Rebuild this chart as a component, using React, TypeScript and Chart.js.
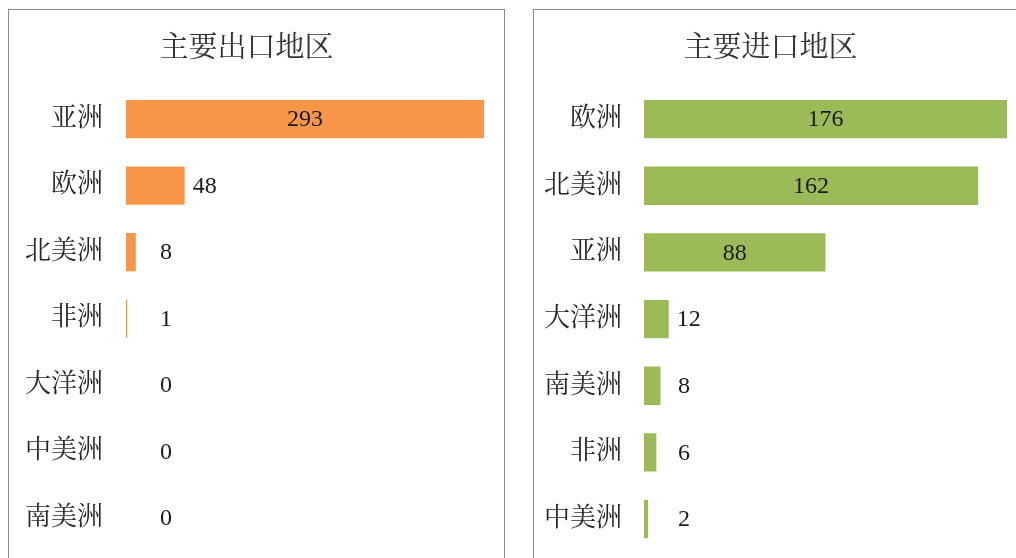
import React, { useEffect, useRef } from "react";
import { Chart, registerables } from "chart.js";

Chart.register(...registerables);

const exportTitle = "主要出口地区";
const exportRegions = ["亚洲", "欧洲", "北美洲", "非洲", "大洋洲", "中美洲", "南美洲"];
const exportValues = [293, 48, 8, 1, 0, 0, 0];

const importTitle = "主要进口地区";
const importRegions = ["欧洲", "北美洲", "亚洲", "大洋洲", "南美洲", "非洲", "中美洲"];
const importValues = [176, 162, 88, 12, 8, 6, 2];

const FONT = "'Liberation Serif', 'Noto Serif CJK SC', 'Noto Sans CJK SC', serif";

const CANVAS_H = 572;

const labelPlugin = {
  id: "barLabels",
  afterDatasetsDraw(chart: any) {
    const ctx = chart.ctx;
    const meta = chart.getDatasetMeta(0);
    const data = chart.data.datasets[0].data as number[];
    ctx.save();
    ctx.font = "24px " + FONT;
    ctx.fillStyle = "#1a1a1a";
    ctx.textBaseline = "middle";
    ctx.textAlign = "center";
    meta.data.forEach((bar: any, i: number) => {
      const txt = String(data[i]);
      const w = ctx.measureText(txt).width;
      const barW = bar.x - bar.base;
      let cx: number;
      if (barW > 100) {
        cx = bar.base + barW / 2;
      } else {
        cx = Math.max(bar.x + 8 + w / 2, bar.base + 40);
      }
      ctx.fillText(txt, cx, bar.y + 1);
    });
    ctx.restore();
  },
};

function BarPanel(props: {
  title: string;
  labels: string[];
  values: number[];
  color: string;
  left: number;
  axisWidth: number;
  padRight: number;
  tickPad: number;
}) {
  const ref = useRef<HTMLCanvasElement | null>(null);
  useEffect(() => {
    if (!ref.current) return;
    const max = Math.max(...props.values);
    const chart = new Chart(ref.current, {
      type: "bar",
      data: {
        labels: props.labels,
        datasets: [
          {
            data: props.values,
            backgroundColor: props.color,
            borderWidth: 0,
            categoryPercentage: 1,
            barPercentage: 0.575,
          },
        ],
      },
      options: {
        indexAxis: "y",
        animation: false,
        responsive: false,
        maintainAspectRatio: false,
        layout: { padding: { left: 0, right: props.padRight, top: 0, bottom: 13 } },
        plugins: {
          legend: { display: false },
          tooltip: { enabled: false },
          title: {
            display: true,
            text: props.title,
            color: "#333333",
            font: { family: FONT, size: 29, weight: "normal" },
            padding: { top: 22, bottom: 19 },
          },
        },
        scales: {
          x: { display: false, min: 0, max: max },
          y: {
            grid: { display: false },
            border: { display: false },
            ticks: {
              color: "#262626",
              font: { family: FONT, size: 26 },
              padding: props.tickPad,
            },
            afterFit(scale: any) {
              scale.width = props.axisWidth;
            },
          },
        },
      } as any,
      plugins: [labelPlugin],
    });
    return () => chart.destroy();
  }, []);
  return (
    <div
      style={{
        position: "absolute",
        left: props.left,
        top: 9,
        width: 495,
        height: CANVAS_H,
        border: "1px solid #8a8a8a",
        background: "#fff",
      }}
    >
      <canvas ref={ref} width={495} height={CANVAS_H} style={{ display: "block" }} />
    </div>
  );
}

export default function App() {
  return (
    <div
      style={{
        position: "fixed",
        left: 0,
        top: 0,
        width: 1016,
        height: 558,
        overflow: "hidden",
        background: "#fff",
      }}
    >
      <BarPanel
        title={exportTitle}
        labels={exportRegions}
        values={exportValues}
        color="#F79646"
        left={8}
        axisWidth={117}
        padRight={20}
        tickPad={15}
      />
      <BarPanel
        title={importTitle}
        labels={importRegions}
        values={importValues}
        color="#9BBB59"
        left={533}
        axisWidth={110}
        padRight={22}
        tickPad={14}
      />
    </div>
  );
}
